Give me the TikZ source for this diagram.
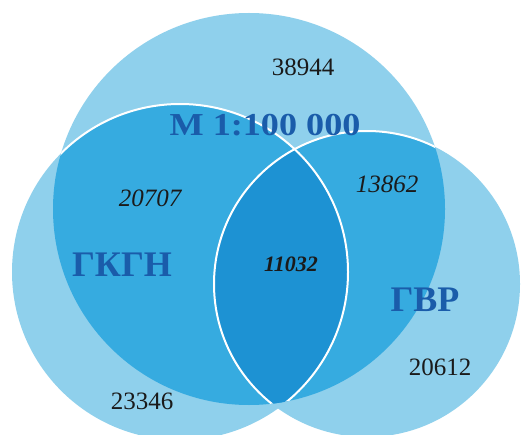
\documentclass[tikz,border=0pt]{standalone}
\usepackage{fontspec}
\setmainfont{Liberation Serif}
\definecolor{lightc}{HTML}{8FD0EC}
\definecolor{medc}{HTML}{36ABE0}
\definecolor{darkc}{HTML}{1D92D3}
\definecolor{labc}{HTML}{1A5CAA}
\definecolor{numc}{HTML}{1A1A1A}
\tikzset{
  num/.style={inner sep=0pt, text=numc, font=\fontsize{25}{30}\selectfont},
  numi/.style={inner sep=0pt, text=numc, font=\fontsize{25}{30}\selectfont\itshape},
  numbi/.style={inner sep=0pt, text=numc, font=\fontsize{22}{26}\selectfont\bfseries\itshape},
  lab/.style={inner sep=0pt, text=labc, font=\fontsize{36}{40}\selectfont\bfseries},
  whiteline/.style={draw=white, line width=2pt}
}
\begin{document}
\begin{tikzpicture}[x=1pt,y=-1pt]
\useasboundingbox (0,0) rectangle (526,435);
\fill[white] (0,0) rectangle (526,435);
\coordinate (ct) at (249,209);
\coordinate (cl) at (180,272);
\coordinate (cr) at (367,284);
\fill[lightc] (ct) circle[radius=196pt];
\fill[lightc] (cl) circle[radius=168pt];
\fill[lightc] (cr) circle[radius=153pt];
\begin{scope}
  \clip (ct) circle[radius=196pt];
  \fill[medc] (cl) circle[radius=168pt];
  \fill[medc] (cr) circle[radius=153pt];
  \begin{scope}
    \clip (cl) circle[radius=168pt];
    \fill[darkc] (cr) circle[radius=153pt];
  \end{scope}
  \draw[whiteline] (cl) circle[radius=168pt];
  \draw[whiteline] (cr) circle[radius=153pt];
\end{scope}
\node[num] (n38944) at (303,67) {38944};
\node[numi] (n20707) at (150,198) {20707};
\node[numi] (n13862) at (387,184) {13862};
\node[numbi] (n11032) at (291,264) {11032};
\node[num] (n20612) at (440,367) {20612};
\node[num] (n23346) at (142,401) {23346};
\node[lab] (lgkgn) at (122,265) {ГКГН};
\node[lab] (lgvr) at (425,300) {ГВР};
\node[lab, font=\fontsize{32}{36}\selectfont\bfseries, xscale=1.13] (lm) at (265,125) {М 1:100 000};
\end{tikzpicture}
\end{document}
